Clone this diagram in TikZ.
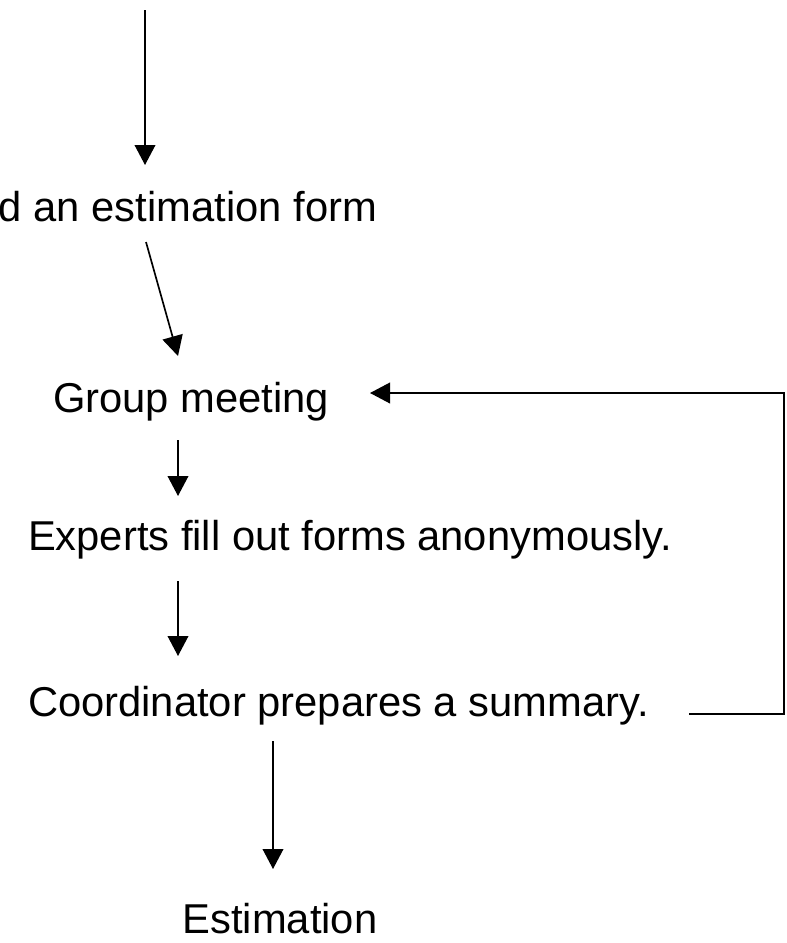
\documentclass[tikz,border=0pt]{standalone}
\usepackage{fontspec}
\setmainfont{Liberation Sans}
\usetikzlibrary{arrows.meta}
\begin{document}
\begin{tikzpicture}[x=0.75pt,y=-0.75pt,
  lbl/.style={inner sep=0pt, outer sep=0pt, font=\fontsize{31.3pt}{36pt}\selectfont},
  conn/.style={line width=1.25pt, -{Triangle[length=15pt,width=15.5pt]}}]
\useasboundingbox (0,0) rectangle (787,943);
\fill[white] (0,0) rectangle (787,943);
% texts
\node[lbl, anchor=base east] (form) at (377,221) {d an estimation form};
\node[lbl, anchor=base west] (grp) at (53,412) {Group meeting};
\node[lbl, anchor=base west] (exp) at (28,550) {Experts fill out forms anonymously.};
\node[lbl, anchor=base west] (crd) at (28,716) {Coordinator prepares a summary.};
\node[lbl, anchor=base] (est) at (280,933) {Estimation};
% connector ends
\coordinate (topstart) at (145,10);
\coordinate (topend) at (145,165);
\coordinate (dgs) at (146,242);
\coordinate (dge) at (178,356);
\coordinate (ges) at (178,440);
\coordinate (gee) at (178,496);
\coordinate (ecs) at (178,581);
\coordinate (ece) at (178,656);
\coordinate (ces) at (273,741);
\coordinate (cee) at (273,869);
\coordinate (fba) at (689,714);
\coordinate (fbb) at (784,714);
\coordinate (fbc) at (784,393);
\coordinate (fbd) at (370,393);
% connectors
\draw[conn] (topstart) -- (topend);
\draw[conn] (dgs) -- (dge);
\draw[conn] (ges) -- (gee);
\draw[conn] (ecs) -- (ece);
\draw[conn] (ces) -- (cee);
\draw[conn, line join=miter] (fba) -- (fbb) -- (fbc) -- (fbd);
\end{tikzpicture}
\end{document}
